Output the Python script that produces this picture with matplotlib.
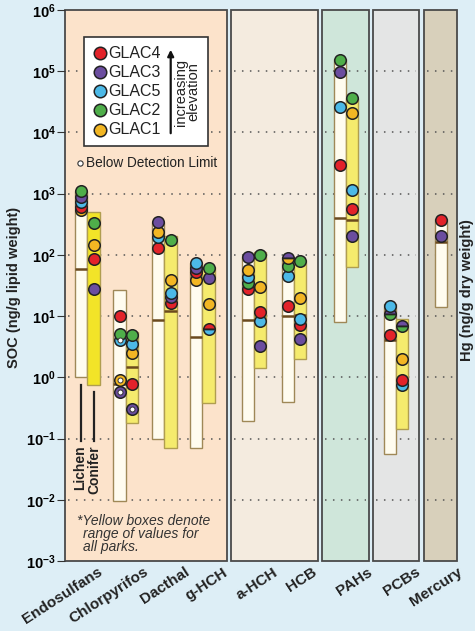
import matplotlib
matplotlib.use("Agg")
import matplotlib.pyplot as plt
from matplotlib.patches import Rectangle
from matplotlib.transforms import blended_transform_factory

plt.rcParams['font.family'] = ['Liberation Sans', 'DejaVu Sans']
plt.rcParams['mathtext.fontset'] = 'custom'
plt.rcParams['mathtext.rm'] = 'Liberation Sans'
plt.rcParams['mathtext.bf'] = 'Liberation Sans:bold'

# ---- data ----
compounds = ["Endosulfans", "Chlorpyrifos", "Dacthal", "g-HCH", "a-HCH",
             "HCB", "PAHs", "PCBs", "Mercury"]
parks = ["GLAC4", "GLAC3", "GLAC5", "GLAC2", "GLAC1"]

# range boxes (all parks) and medians
lichen_lo = [1.0, 0.0095, 0.1, 0.071, 0.19, 0.4, 7.9, 0.057, 14]
lichen_hi = [1100, 27, 350, 74, 95, 92, 158000, 15.5, 390]
lichen_med = [58, 0.78, 8.8, 4.6, 8.5, 10, 400, 4.0, 160]
conifer_lo = [0.76, 0.18, 0.07, 0.38, 1.4, 2.0, 63, 0.145, None]
conifer_hi = [510, 5.6, 205, 63, 112, 83, 37000, 8.9, None]
conifer_med = [None, 1.5, 12.2, None, None, 10.5, 365, None, None]

# park values (None = not shown)
glac4_lichen = [595, 10.2, 129, 52, 28, 14.5, 2960, 5.0, 375]
glac3_lichen = [870, 0.57, 340, 60, 92, 89, 96000, 10.8, 203]
glac5_lichen = [720, 4.0, 194, 73, 43, 45, 26000, 14.7, None]
glac2_lichen = [1090, 5.1, None, None, 35, 65, 155000, 10.8, None]
glac1_lichen = [550, 0.91, 236, 39, 56, 89, None, None, None]

glac4_conifer = [85, 0.78, 16.3, 6.2, 11.8, 7.2, 560, 0.91, None]
glac3_conifer = [28, 0.3, 20.5, 41.5, 3.2, 4.2, 200, 6.9, None]
glac5_conifer = [None, 3.5, 24, 6.2, 8.2, 8.9, 1150, 0.75, None]
glac2_conifer = [330, 4.9, 172, 62, 100, 80, 36000, 6.9, None]
glac1_conifer = [146, 2.5, 39, 16, 30, 19.5, 21000, 2.0, None]

# below detection limit: (park, compound, tissue)
below_dl = [("GLAC5", "Chlorpyrifos", "lichen"), ("GLAC1", "Chlorpyrifos", "lichen"),
            ("GLAC3", "Chlorpyrifos", "lichen"), ("GLAC3", "Chlorpyrifos", "conifer")]

ytick_vals = [1e-3, 1e-2, 1e-1, 1e0, 1e1, 1e2, 1e3, 1e4, 1e5, 1e6]
ytick_labels = [r"$\mathbf{10^{-3}}$", r"$\mathbf{10^{-2}}$", r"$\mathbf{10^{-1}}$",
                r"$\mathbf{10^{0}}$", r"$\mathbf{10^{1}}$", r"$\mathbf{10^{2}}$",
                r"$\mathbf{10^{3}}$", r"$\mathbf{10^{4}}$", r"$\mathbf{10^{5}}$",
                r"$\mathbf{10^{6}}$"]

# ---- layout / style (pixel units of the 475x631 canvas) ----
W, H = 475, 631
group_x = [87.5, 125.7, 164.4, 202.5, 254.0, 294.0, 346.1, 395.9, 446.9]
label_x = [97, 143, 184, 222, 273, 312, 367, 415, 457]
bar_w = 12.3
panels = [(65, 227, "#fce3cb"), (231, 318, "#f4ebdf"), (322, 369, "#cfe6da"),
          (373, 419, "#e4e5e5"), (424, 457, "#d8d0bb")]
park_colors = {"GLAC4": "#e2232a", "GLAC3": "#6b4d9f", "GLAC5": "#4cb9e7",
               "GLAC2": "#4fae4a", "GLAC1": "#f2b623"}
bg = "#ddeef6"
lichen_fc, lichen_ec = "#fffcef", "#9f8857"
conifer_fc, conifer_ec = "#f5eb6d", "#b09e50"
med_c = "#6b4a1e"

fig = plt.figure(figsize=(W / 100, H / 100), dpi=100, facecolor=bg)
ax = fig.add_axes([65 / W, 1 - 561 / H, (457 - 65) / W, (561 - 10) / H])
ax.set_facecolor("none")
ax.set_yscale("log")
ax.set_ylim(1e-3, 1e6)
ax.set_xlim(65, 457)
for s in ax.spines.values():
    s.set_visible(False)
ax.set_xticks([])
ax.set_yticks(ytick_vals)
ax.set_yticklabels(ytick_labels, fontsize=10.5)
ax.minorticks_off()
ax.tick_params(axis="y", length=5.5, width=0.8, color="#333333", pad=1)

# panels + dotted grid
for x0, x1, c in panels:
    ax.axvspan(x0, x1, facecolor=c, edgecolor="#4a4a4a", lw=1.3, zorder=0, clip_on=False)
    ax.hlines(ytick_vals[1:-1], x0 + 3, x1 - 3, colors="#555555",
              linestyles=(0, (1, 4.2)), lw=1.1, zorder=1)

lichen_vals = [glac4_lichen, glac3_lichen, glac5_lichen, glac2_lichen, glac1_lichen]
conifer_vals = [glac4_conifer, glac3_conifer, glac5_conifer, glac2_conifer, glac1_conifer]


def draw_points(x, vals, comp, tissue):
    pts = {}
    for p, v in vals:
        if v is not None:
            pts.setdefault(v, []).append(p)
    for v in sorted(pts):
        ps = pts[v]
        if len(ps) == 1:
            ax.plot(x, v, "o", ms=8.3, mfc=park_colors[ps[0]], mec="#222222",
                    mew=1.1, zorder=5)
        else:
            ax.plot(x, v, "o", ms=8.3, fillstyle="top", mfc=park_colors[ps[0]],
                    markerfacecoloralt=park_colors[ps[1]], mec="#222222",
                    mew=1.1, zorder=5)
            ax.plot([x - 4.2, x + 4.2], [v, v], color="#222222", lw=0.9, zorder=5)
        for p in ps:
            if (p, comp, tissue) in below_dl:
                ax.plot(x, v, "o", ms=3.6, mfc="white", mec="#333333", mew=0.7, zorder=6)


for i, comp in enumerate(compounds):
    xl = group_x[i] - bar_w / 2
    xc = group_x[i] + bar_w / 2
    ax.bar(xl, lichen_hi[i] - lichen_lo[i], bottom=lichen_lo[i], width=bar_w,
           color=lichen_fc, edgecolor=lichen_ec, lw=1.0, zorder=2)
    if lichen_med[i]:
        ax.hlines(lichen_med[i], xl - bar_w / 2, xl + bar_w / 2, color=med_c, lw=1.8, zorder=3)
    if conifer_lo[i] is not None:
        fc = "#f2e428" if comp == "Endosulfans" else conifer_fc
        ax.bar(xc, conifer_hi[i] - conifer_lo[i], bottom=conifer_lo[i], width=bar_w,
               color=fc, edgecolor=conifer_ec, lw=1.0, zorder=2)
        if conifer_med[i]:
            ax.hlines(conifer_med[i], xc - bar_w / 2, xc + bar_w / 2, color=med_c, lw=1.8, zorder=3)
    draw_points(xl, [(p, lichen_vals[k][i]) for k, p in enumerate(parks)], comp, "lichen")
    draw_points(xc, [(p, conifer_vals[k][i]) for k, p in enumerate(parks)], comp, "conifer")

# x labels
tr = blended_transform_factory(ax.transData, fig.transFigure)
for i, comp in enumerate(compounds):
    ax.text(label_x[i], 1 - 565 / H, comp, transform=tr, rotation=33,
            rotation_mode="anchor", ha="right", va="top", fontsize=11,
            fontweight="bold", color="#222222")

# overlay in pixel coordinates for annotations
ov = fig.add_axes([0, 0, 1, 1])
ov.set_xlim(0, W)
ov.set_ylim(H, 0)
ov.axis("off")

ov.text(14, 287, "SOC (ng/g lipid weight)", rotation=90, ha="center", va="center",
        fontsize=10.5, fontweight="bold", color="#222222")
ov.text(467, 290, "Hg (ng/g dry weight)", rotation=90, ha="center", va="center",
        fontsize=10.5, fontweight="bold", color="#222222")

# legend box
ov.add_patch(Rectangle((84, 37.3), 124.3, 108.7, facecolor="white",
                       edgecolor="#333333", lw=1.2, zorder=3))
leg_y = [52.7, 71.7, 90.7, 110, 129.5]
for p, y in zip(parks, leg_y):
    ov.plot(100, y, "o", ms=9, mfc=park_colors[p], mec="#222222", mew=1.1, zorder=4)
    ov.text(108, y + 0.5, p, ha="left", va="center", fontsize=11.5, color="#222222", zorder=4)
ov.annotate("", xy=(170.7, 47), xytext=(170.7, 136),
            arrowprops=dict(arrowstyle="-|>", color="#111111", lw=1.6, mutation_scale=9),
            zorder=4)
ov.text(187, 92, "increasing\nelevation", rotation=90, ha="center", va="center",
        fontsize=10.5, linespacing=0.85, color="#222222", zorder=4)

ov.plot(80, 162.5, "o", ms=3.8, mfc="white", mec="#333333", mew=0.8)
ov.text(86, 163, "Below Detection Limit", ha="left", va="center", fontsize=9.8,
        color="#222222")

# lichen / conifer markers
ov.plot([81, 81], [385, 441], color="#222222", lw=1.6)
ov.plot([93.7, 93.7], [392, 441], color="#222222", lw=1.6)
ov.text(80.5, 445, "Lichen", rotation=90, ha="center", va="top", fontsize=10,
        fontweight="bold", color="#222222")
ov.text(94, 445, "Conifer", rotation=90, ha="center", va="top", fontsize=10,
        fontweight="bold", color="#222222")

ov.text(77, 521, "*Yellow boxes denote", ha="left", va="center", fontsize=10,
        style="italic", color="#333333")
ov.text(83, 534, "range of values for", ha="left", va="center", fontsize=10,
        style="italic", color="#333333")
ov.text(83, 547, "all parks.", ha="left", va="center", fontsize=10,
        style="italic", color="#333333")

fig.savefig("out.png", dpi=100, facecolor=bg)
